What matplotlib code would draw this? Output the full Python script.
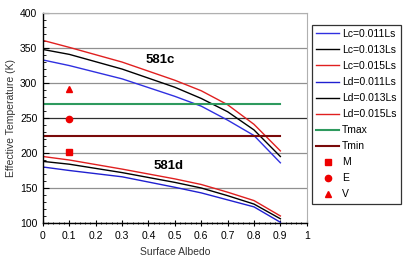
import numpy as np
import matplotlib
matplotlib.use('Agg')
import matplotlib.pyplot as plt
from matplotlib.ticker import MultipleLocator

plt.rcParams['font.family'] = ['Liberation Sans', 'DejaVu Sans']

albedo = [0, 0.1, 0.3, 0.5, 0.6, 0.7, 0.8, 0.9]

# 581c
lc_011 = [333, 325, 306, 281, 267, 247, 225, 186]
lc_013 = [348, 341, 320, 294, 278, 259, 233, 195]
lc_015 = [361, 351, 330, 304, 289, 269, 241, 203]
# 581d
ld_011 = [180, 175, 166, 151, 143, 133, 123, 101]
ld_013 = [188, 184, 172, 158, 150, 139, 127, 106]
ld_015 = [195, 190, 177, 163, 155, 144, 132, 110]

t_max = 270
t_min = 225
planet_x = 0.1
planet_names = ['M', 'E', 'V']
planet_t = [201, 248, 292]
planet_markers = ['s', 'o', '^']

fig = plt.figure(figsize=(4.09, 2.62), dpi=100)
ax = fig.add_axes([0.105, 0.149, 0.645, 0.801])

ax.plot(albedo, lc_011, color='#3030e0', lw=1, label='Lc=0.011Ls')
ax.plot(albedo, lc_013, color='black', lw=1, label='Lc=0.013Ls')
ax.plot(albedo, lc_015, color='#e02020', lw=1, label='Lc=0.015Ls')
ax.plot(albedo, ld_011, color='#2020d0', lw=1, label='Ld=0.011Ls')
ax.plot(albedo, ld_013, color='black', lw=1, label='Ld=0.013Ls')
ax.plot(albedo, ld_015, color='#e02020', lw=1, label='Ld=0.015Ls')
ax.plot([0, 0.9], [t_max, t_max], color='#2e9a5e', lw=1.5, label='Tmax')
ax.plot([0, 0.9], [t_min, t_min], color='#7a0a0a', lw=1.5, label='Tmin')
for name, t, m in zip(planet_names, planet_t, planet_markers):
    ax.plot([planet_x], [t], ls='none', marker=m, color='#ee0000', ms=4.5, label=name)

ax.text(0.39, 333, '581c', fontsize=9.5, fontweight='bold', va='center')
ax.text(0.42, 182, '581d', fontsize=9.5, fontweight='bold', va='center')

ax.set_xlim(0, 1)
ax.set_ylim(100, 400)
ax.xaxis.set_minor_locator(MultipleLocator(0.02))
ax.yaxis.set_major_locator(MultipleLocator(50))
ax.yaxis.set_minor_locator(MultipleLocator(10))
ax.set_xticks(np.arange(0, 1.01, 0.1))
ax.set_xticklabels(['0', '0.1', '0.2', '0.3', '0.4', '0.5', '0.6', '0.7', '0.8', '0.9', '1'])
ax.tick_params(which='major', direction='in', length=4, width=0.8, labelsize=7.5, pad=4)
ax.tick_params(which='minor', direction='in', length=2, width=0.6)
ax.tick_params(axis='x', direction='inout', which='both')

ax.grid(axis='y', color='#909090', lw=0.9)
for i, gl in enumerate(ax.get_ygridlines()):
    if abs(ax.get_yticks()[i] - 250) < 1:
        gl.set_color('#303030')
ax.set_axisbelow(True)

ax.spines['top'].set_color('#b0b0b0')
ax.spines['right'].set_color('#b0b0b0')
ax.spines['left'].set_linewidth(1)
ax.spines['bottom'].set_linewidth(1)

ax.set_xlabel('Surface Albedo', fontsize=7.5, color='#333333', labelpad=4)
ax.set_ylabel('Effective Temperature (K)', fontsize=7.5, color='#333333', labelpad=3)

leg = fig.legend(loc='upper left', bbox_to_anchor=(0.763, 0.905), fontsize=7.5,
                 frameon=True, fancybox=False, edgecolor='black', handlelength=2.2,
                 handletextpad=0.3, labelspacing=0.58, borderpad=0.4, borderaxespad=0)
leg.get_frame().set_linewidth(0.9)

fig.savefig('out.png', dpi=100)
